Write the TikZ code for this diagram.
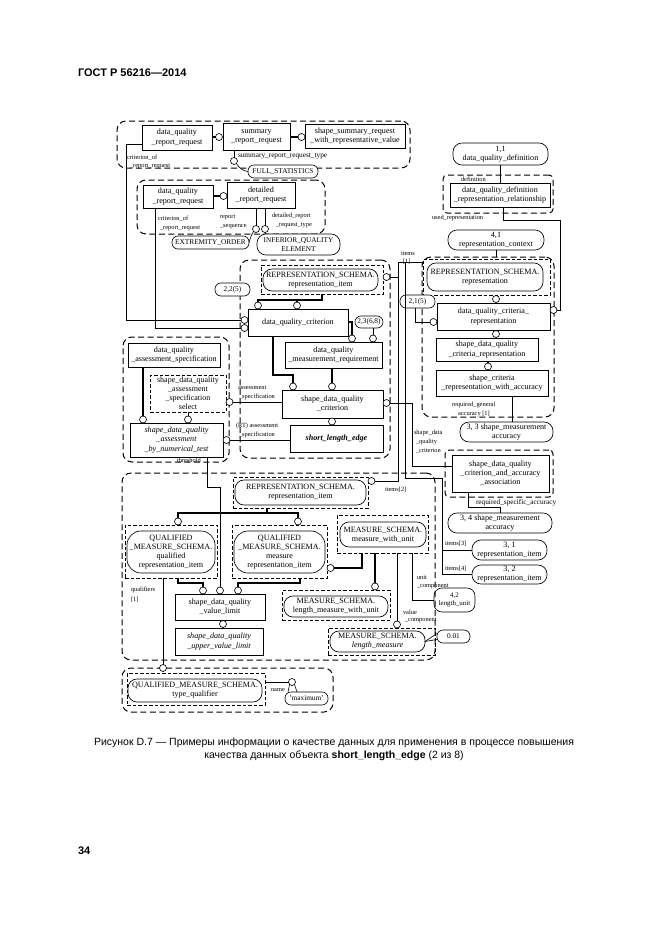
\documentclass[tikz,border=0pt]{standalone}
\usepackage{fontspec}
\setmainfont{Liberation Serif}
\newfontfamily\hdrfont{Liberation Sans}
\usetikzlibrary{calc}
\newcommand\bx[7]{\node[#6, minimum width={(#4)-(#2)}, minimum height={(#5)-(#3)}] (#1) at ({((#2)+(#4))/2},{((#3)+(#5))/2}) {#7};}
\begin{document}
\begin{tikzpicture}[x=1pt,y=-1pt,
  every node/.style={inner sep=0pt, outer sep=0pt},
  efont/.style={font=\fontsize{8.1}{9.1}\selectfont},
  ent/.style={draw, line width=0.65pt, align=center, efont},
  enti/.style={ent, font=\fontsize{8.1}{9.1}\selectfont\itshape},
  rnd/.style={draw, line width=0.65pt, rounded corners=9pt, align=center, efont},
  rnds/.style={rnd, rounded corners=6pt, font=\fontsize{7.3}{8.3}\selectfont},
  rndl/.style={rnd, rounded corners=14pt},
  dsh/.style={draw, line width=0.7pt, dash pattern=on 3.5pt off 2pt},
  grp/.style={draw, line width=1pt, dash pattern=on 6pt off 3.5pt, rounded corners=9pt},
  circ/.style={draw, circle, fill=white, line width=0.65pt, minimum size=7pt},
  lbl/.style={font=\fontsize{6.4}{7}\selectfont, anchor=west},
  lblL/.style={lbl, font=\fontsize{7.3}{8}\selectfont},
  thk/.style={line width=1.8pt},
  thn/.style={line width=0.6pt},
]
\useasboundingbox (0,0) rectangle (661,935);
\fill[white] (0,0) rectangle (661,935);

% header, page number, caption
\node[anchor=west, font=\hdrfont\bfseries\fontsize{11}{13}\selectfont] (hdr) at (78,73) {ГОСТ Р 56216—2014};
\node[anchor=west, font=\hdrfont\bfseries\fontsize{11}{13}\selectfont] (pg) at (78,851) {34};
\node[font=\hdrfont\fontsize{10.5}{13}\selectfont, align=center] (cap) at (334,749) {Рисунок D.7 — Примеры информации о качестве данных для применения в процессе повышения\\качества данных объекта \textbf{short\_length\_edge} (2 из 8)};

% ---------- group 1
\bx{g1}{117}{121}{410}{168}{grp}{}
\bx{b1}{142}{125}{212}{150}{ent}{data\_quality\\\_report\_request}
\bx{b2}{223}{123}{290}{150}{ent}{summary\\\_report\_request}
\bx{b3}{305}{124}{405}{148}{ent}{shape\_summary\_request\\\_with\_representative\_value}
\node[circ] (c1) at (219,137) {};
\node[circ] (c2) at (301.5,137) {};
\draw[thk] (b1.east |- c1) -- (c1.west);
\draw[thk] (b2.east |- c2) -- (c2.west);
\node[circ] (c3) at (234,161) {};
\draw[thn] (b2.south -| c3) -- (c3.north);
\node[lblL] (l1) at (238,156.5) {summary\_report\_request\_type};
\bx{fs}{248}{165}{318}{178}{rnds,fill=white}{FULL\_STATISTICS}
\draw[thn] (c3.south east) .. controls (239,168) and (243,171) .. (fs.west);
\node[lbl] (l2) at (127,158) {criterion\_of};
\node[lbl] (l3) at (130,166.5) {\_report\_request};

% ---------- group 2
\bx{g2}{137}{180}{325}{234}{grp}{}
\bx{b4}{143}{185}{213}{208}{ent}{data\_quality\\\_report\_request}
\bx{b5}{227}{182}{295}{208}{ent}{detailed\\\_report\_request}
\node[circ] (c4) at (223.5,196) {};
\draw[thk] (b4.east |- c4) -- (c4.west);
\node[lbl] (l4) at (158,219) {criterion\_of};
\node[lbl] (l5) at (160,228) {\_report\_request};
\node[lbl] (l6) at (220,217.5) {report};
\node[lbl] (l7) at (220,226.5) {\_sequence};
\node[circ] (c5) at (256,229) {};
\node[circ] (c6) at (265,229) {};
\draw[thn] (b5.south -| c5) -- (c5.north);
\draw[thn] (b5.south -| c6) -- (c6.north);
\node[lbl] (l8) at (272,216) {detailed\_report};
\node[lbl] (l9) at (276,225.5) {\_request\_type};
\bx{eo}{172}{236}{249}{249}{rnds,fill=white}{EXTREMITY\_ORDER}
\bx{iq}{257}{234}{340}{255}{rnd,fill=white,font=\fontsize{7.3}{8.6}\selectfont}{INFERIOR\_QUALITY\\ELEMENT}
\draw[thn] (c5.south west) .. controls (251,236) .. (eo.east);
\draw[thn] (c6.south) -- (c6.south |- iq.north);

% ---------- right top
\bx{dd}{453}{143}{548}{165}{rnd}{1,1\\data\_quality\_definition}
\bx{gdef}{443}{175}{553}{213}{grp,rounded corners=4pt}{}
\bx{b6}{450}{183}{550}{207}{ent}{data\_quality\_definition\\\_representation\_relationship}
\coordinate (x500) at (500,0);
\draw[thn] (dd.south -| x500) -- (b6.north -| x500);
\node[lbl] (l10) at (461,179.5) {definition};
\node[lbl] (l11) at (432,218) {used\_representation};
\bx{rc}{448}{230}{544}{250}{rnd}{4,1\\representation\_context}
\bx{g4}{422}{257}{554}{417}{grp}{}
\draw[thn] (rc.south) -- (rc.south |- g4.north);
\bx{repd}{423}{259}{550}{295}{dsh}{}
\bx{rep}{427}{263}{543}{291}{rnd}{REPRESENTATION\_SCHEMA.\\representation}
\node[circ] (c7) at (496,299) {};
\bx{dqcr}{437}{303}{550}{330}{ent}{data\_quality\_criteria\_\\representation}
\draw[thk] (repd.south -| c7) -- (c7.north);
\node[circ] (c8) at (496,334) {};
\draw[thk] (dqcr.south -| c8) -- (c8.north);
\bx{sdqcr}{436}{338}{538}{361}{ent}{shape\_data\_quality\\\_criteria\_representation}
\node[circ] (c9) at (488,366.5) {};
\draw[thk] (sdqcr.south -| c9) -- (c9.north);
\bx{scrwa}{436}{370}{548}{396}{ent}{shape\_criteria\\\_representation\_with\_accuracy}
\node[circ] (cur) at (553.5,310) {};
\coordinate (u1) at (503,220);
\coordinate (u2) at (560,220);
\draw[thn] (b6.south -| u1) -- (u1) -- (u2) -- (u2 |- cur) -- (cur.east);
\node[lbl] (l12) at (452,405) {required\_general};
\node[lbl] (l13) at (458,414) {accuracy [1]};
\bx{o33}{460}{422}{553}{442}{rnd}{3, 3 shape\_measurement\\accuracy}
\coordinate (x512) at (512,0);
\draw[thn] (scrwa.south -| x512) -- (o33.north -| x512);
\bx{o21}{400}{295}{435}{308}{rnds,fill=white}{2,1(5)}
\node[circ] (c10) at (433.5,322) {};
\coordinate (p21) at (415,322);
\draw[thn] (o21.south -| p21) -- (p21) -- (c10.west);
\node[lbl] (l14) at (401,253) {items};
\node[lbl] (l15) at (403,262) {[1]};

% ---------- middle group
\bx{gm}{240}{260}{390}{458}{grp}{}
\bx{ri1d}{261}{265}{383}{294}{dsh}{}
\bx{ri1}{263}{269}{378}{291}{rnd}{REPRESENTATION\_SCHEMA.\\representation\_item}
\node[circ] (c11) at (386.5,277) {};
\bx{o22}{215}{283}{250}{296}{rnds,fill=white}{2,2(5)}
\bx{dqc}{248}{309}{348}{336}{ent}{data\_quality\_criterion}
\node[circ] (c12) at (258,305.5) {};
\node[circ] (c13) at (297,305.5) {};
\coordinate (r1) at (322,300);
\draw[thk] (ri1d.south -| r1) -- (r1) -- (r1 -| c12) -- (c12.north);
\draw[thk] (r1 -| c13) -- (c13.north);
\node[circ] (c14) at (244.5,320) {};
\node[circ] (c15) at (244.5,328) {};
\coordinate (p1) at (126,144);
\coordinate (p2) at (155,328);
\draw[thn] (b1.west |- p1) -- (p1) -- (p1 |- c14) -- (c14.west);
\draw[thn] (b4.south -| p2) -- (p2) -- (c15.west);
\bx{o236}{355}{316}{383}{328}{rnds,fill=white}{2,3(6,8)}
\bx{dqmr}{285}{342}{382}{368}{ent}{data\_quality\\\_measurement\_requirement}
\node[circ] (c16) at (352,338.5) {};
\node[circ] (c17) at (373,338.5) {};
\coordinate (r2) at (352,322);
\draw[thk] (dqc.east |- r2) -- (r2) -- (c16.north);
\draw[thn] (o236.south -| c17) -- (c17.north);
\bx{sdqc}{282}{390}{383}{418}{ent}{shape\_data\_quality\\\_criterion}
\node[circ] (c18) at (293,386.5) {};
\node[circ] (c19) at (332,386.5) {};
\coordinate (r3) at (273,375);
\draw[thk] (dqc.south -| r3) -- (r3) -- (r3 -| c18) -- (c18.north);
\draw[thk] (dqmr.south -| c19) -- (c19.north);
\bx{sle}{290}{425}{383}{452}{ent,font=\fontsize{8.1}{9.1}\selectfont\bfseries\itshape}{short\_length\_edge}
\node[circ] (c20) at (332,421.5) {};
\draw[thk] (sdqc.south -| c20) -- (c20.north);
\node[circ] (c21) at (386.5,403) {};

% ---------- left group
\bx{g3}{123}{337}{229}{462}{grp}{}
\bx{dqas}{128}{343}{220}{367}{ent}{data\_quality\\\_assessment\_specification}
\bx{sel}{150}{375}{226}{412}{dsh,align=center,font=\fontsize{8}{8.9}\selectfont}{shape\_data\_quality\\\_assessment\\\_specification\\select}
\bx{nt}{130}{423}{223}{457}{enti}{shape\_data\_quality\\\_assessment\\\_by\_numerical\_test}
\node[circ] (c22) at (143,419.5) {};
\node[circ] (c23) at (188,419.5) {};
\draw[thk] (dqas.south -| c22) -- (c22.north);
\draw[thn] (sel.south -| c23) -- (c23.north);
\node[circ] (c24) at (229.5,402) {};
\draw[thn] (sdqc.west |- c24) -- (c24.east);
\node[circ] (c25) at (226.5,440) {};
\draw[thn] (sle.west |- c25) -- (c25.east);
\node[lbl] (l16) at (238,388) {assessment};
\node[lbl] (l17) at (239,397) {\_specification};
\node[lbl] (l18) at (236,426) {(RT) assessment};
\node[lbl] (l19) at (239,435) {\_specification};
\node[lbl] (l20) at (177,460) {threshold};

% ---------- bottom group
\bx{g5}{122}{473}{435}{660}{grp}{}
\bx{ri2d}{233}{477}{368}{508}{dsh}{}
\bx{ri2}{235}{480}{366}{505}{rnd}{REPRESENTATION\_SCHEMA.\\representation\_item}
\node[circ] (c26) at (371.5,481) {};
\node[lbl] (l21) at (385,490) {items[2]};
\node[circ] (c27) at (178,521.5) {};
\node[circ] (c28) at (298,521.5) {};
\coordinate (r4) at (267,513);
\draw[thk] (ri2d.south -| r4) -- (r4) -- (r4 -| c27) -- (c27.north);
\draw[thk] (r4) -- (r4 -| c28) -- (c28.north);
\bx{qrid}{125}{525}{217}{578}{dsh}{}
\bx{qri}{127}{531}{215}{573}{rndl}{QUALIFIED\\\_MEASURE\_SCHEMA.\\qualified\\representation\_item}
\bx{mrid}{232}{525}{327}{578}{dsh}{}
\bx{mri}{234}{531}{325}{573}{rndl}{QUALIFIED\\\_MEASURE\_SCHEMA.\\measure\\representation\_item}
\bx{mwud}{337}{515}{428}{553}{dsh}{}
\bx{mwu}{340}{522}{426}{547}{rnd}{MEASURE\_SCHEMA.\\measure\_with\_unit}
\node[circ] (c29) at (330.5,568) {};
\coordinate (r5) at (362,568);
\draw[thk] (mwud.south -| r5) -- (r5) -- (c29.east);
\node[circ] (c30) at (203,590.5) {};
\node[circ] (c31) at (220,590.5) {};
\node[circ] (c32) at (238,590.5) {};
\coordinate (r6) at (178,583);
\coordinate (r7) at (300,583);
\draw[thk] (qrid.south -| r6) -- (r6) -- (r6 -| c30) -- (c30.north);
\draw[thk] (mrid.south -| r7) -- (r7) -- (r7 -| c32) -- (c32.north);
\coordinate (r8) at (207,487);
\draw[thn] (nt.south -| r8) -- (r8) -- (r8 -| c31) -- (c31.north);
\bx{vl}{175}{594}{265}{620}{ent}{shape\_data\_quality\\\_value\_limit}
\node[circ] (c33) at (223,624) {};
\draw[thk] (vl.south -| c33) -- (c33.north);
\bx{uvl}{175}{628}{263}{655}{enti}{shape\_data\_quality\\\_upper\_value\_limit}
\bx{lmwud}{282}{590}{390}{620}{dsh}{}
\bx{lmwu}{284}{596}{388}{617}{rnd}{MEASURE\_SCHEMA.\\length\_measure\_with\_unit}
\node[circ] (c34) at (375,586.5) {};
\draw[thk] (mwud.south -| c34) -- (c34.north);
\bx{o42}{434}{588}{475}{612}{rnd,rounded corners=8pt,font=\fontsize{6.9}{8.4}\selectfont}{4,2\\length\_unit}
\coordinate (r9) at (412,600);
\draw[thn] (mwud.south -| r9) -- (r9) -- (o42.west);
\node[lbl] (l22) at (417,577) {unit};
\node[lbl] (l23) at (417,586.5) {\_component};
\node[circ] (c35) at (397,624.5) {};
\draw[thn] (mwud.south -| c35) -- (c35.north);
\node[lbl] (l24) at (403,612) {value};
\node[lbl] (l25) at (405,620.5) {\_component};
\bx{lmd}{328}{628}{435}{655}{dsh}{}
\bx{lm}{330}{631}{425}{652}{rnd}{MEASURE\_SCHEMA.\\\textit{length\_measure}}
\bx{o001}{437}{630}{470}{643}{rnds}{0.01}
\draw[thn] (lm.east) -- ($(o001.west)+(0,-3)$);
\draw[thn] (lm.east) -- ($(o001.west)+(0,3)$);

% ---------- qualifier group
\bx{g6}{122}{668}{333}{712}{grp}{}
\bx{tqd}{127}{673}{265}{705}{dsh}{}
\bx{tq}{128}{679}{262}{702}{rnd}{QUALIFIED\_MEASURE\_SCHEMA.\\type\_qualifier}
\node[circ] (c36) at (163,668) {};
\draw[thn] (qrid.south -| c36) -- (c36.north);
\node[lbl] (l26) at (131,590) {qualifiers};
\node[lbl] (l27) at (131,600) {[1]};
\node[circ] (c37) at (292,682) {};
\draw[thn] (tqd.east |- c37) -- (c37.west);
\node[lbl] (l28) at (271,690) {name};
\bx{mx}{285}{692}{328}{705}{rnds}{'maximum'}
\draw[thn] (c37.south west) -- ($(mx.north west)+(3,0)$);
\draw[thn] (c37.south east) -- ($(mx.north west)+(12,0)$);

% ---------- right lower
\bx{g7}{445}{450}{553}{497}{grp,rounded corners=4pt}{}
\bx{assoc}{452}{455}{549}{492}{ent}{shape\_data\_quality\\\_criterion\_and\_accuracy\\\_association}
\coordinate (r10) at (412,403);
\coordinate (r11) at (412,466);
\draw[thn] (c21.east) -- (r10) -- (r11) -- (assoc.west |- r11);
\node[lbl] (l29) at (414,433) {shape\_data};
\node[lbl] (l30) at (416,442) {\_quality};
\node[lbl] (l31) at (416,451) {\_criterion};
\bx{o34}{448}{513}{552}{533}{rnd}{3, 4 shape\_measurement\\accuracy}
\coordinate (r12) at (468,507);
\coordinate (r13) at (500,507);
\draw[thn] (assoc.south -| r12) -- (r12) -- (r13) -- (o34.north -| r13);
\node[lblL] (l32) at (476,503) {required\_specific\_accuracy};
\bx{o31}{472}{540}{547}{560}{rnd}{3, 1\\representation\_item}
\bx{o32}{472}{565}{547}{584}{rnd}{3, 2\\representation\_item}
\node[lbl] (l33) at (445,544) {items[3]};
\node[lbl] (l34) at (445,569) {items[4]};

% ---------- items lines
\coordinate (i1) at (398,262);
\coordinate (i2) at (405,262);
\coordinate (i3) at (405,478);
\coordinate (i4) at (442,478);
\draw[thn] (repd.west |- i1) -- (i1) -- (i1 |- c26) -- (c26.east);
\draw[thn] (c11.east) -- (c11 -| i1);
\draw[thn] (i2) -- (i3) -- (i4) -- (i4 |- o32.west) -- (o32.west);
\draw[thn] (i4 |- o31.west) -- (o31.west);
\end{tikzpicture}
\end{document}
